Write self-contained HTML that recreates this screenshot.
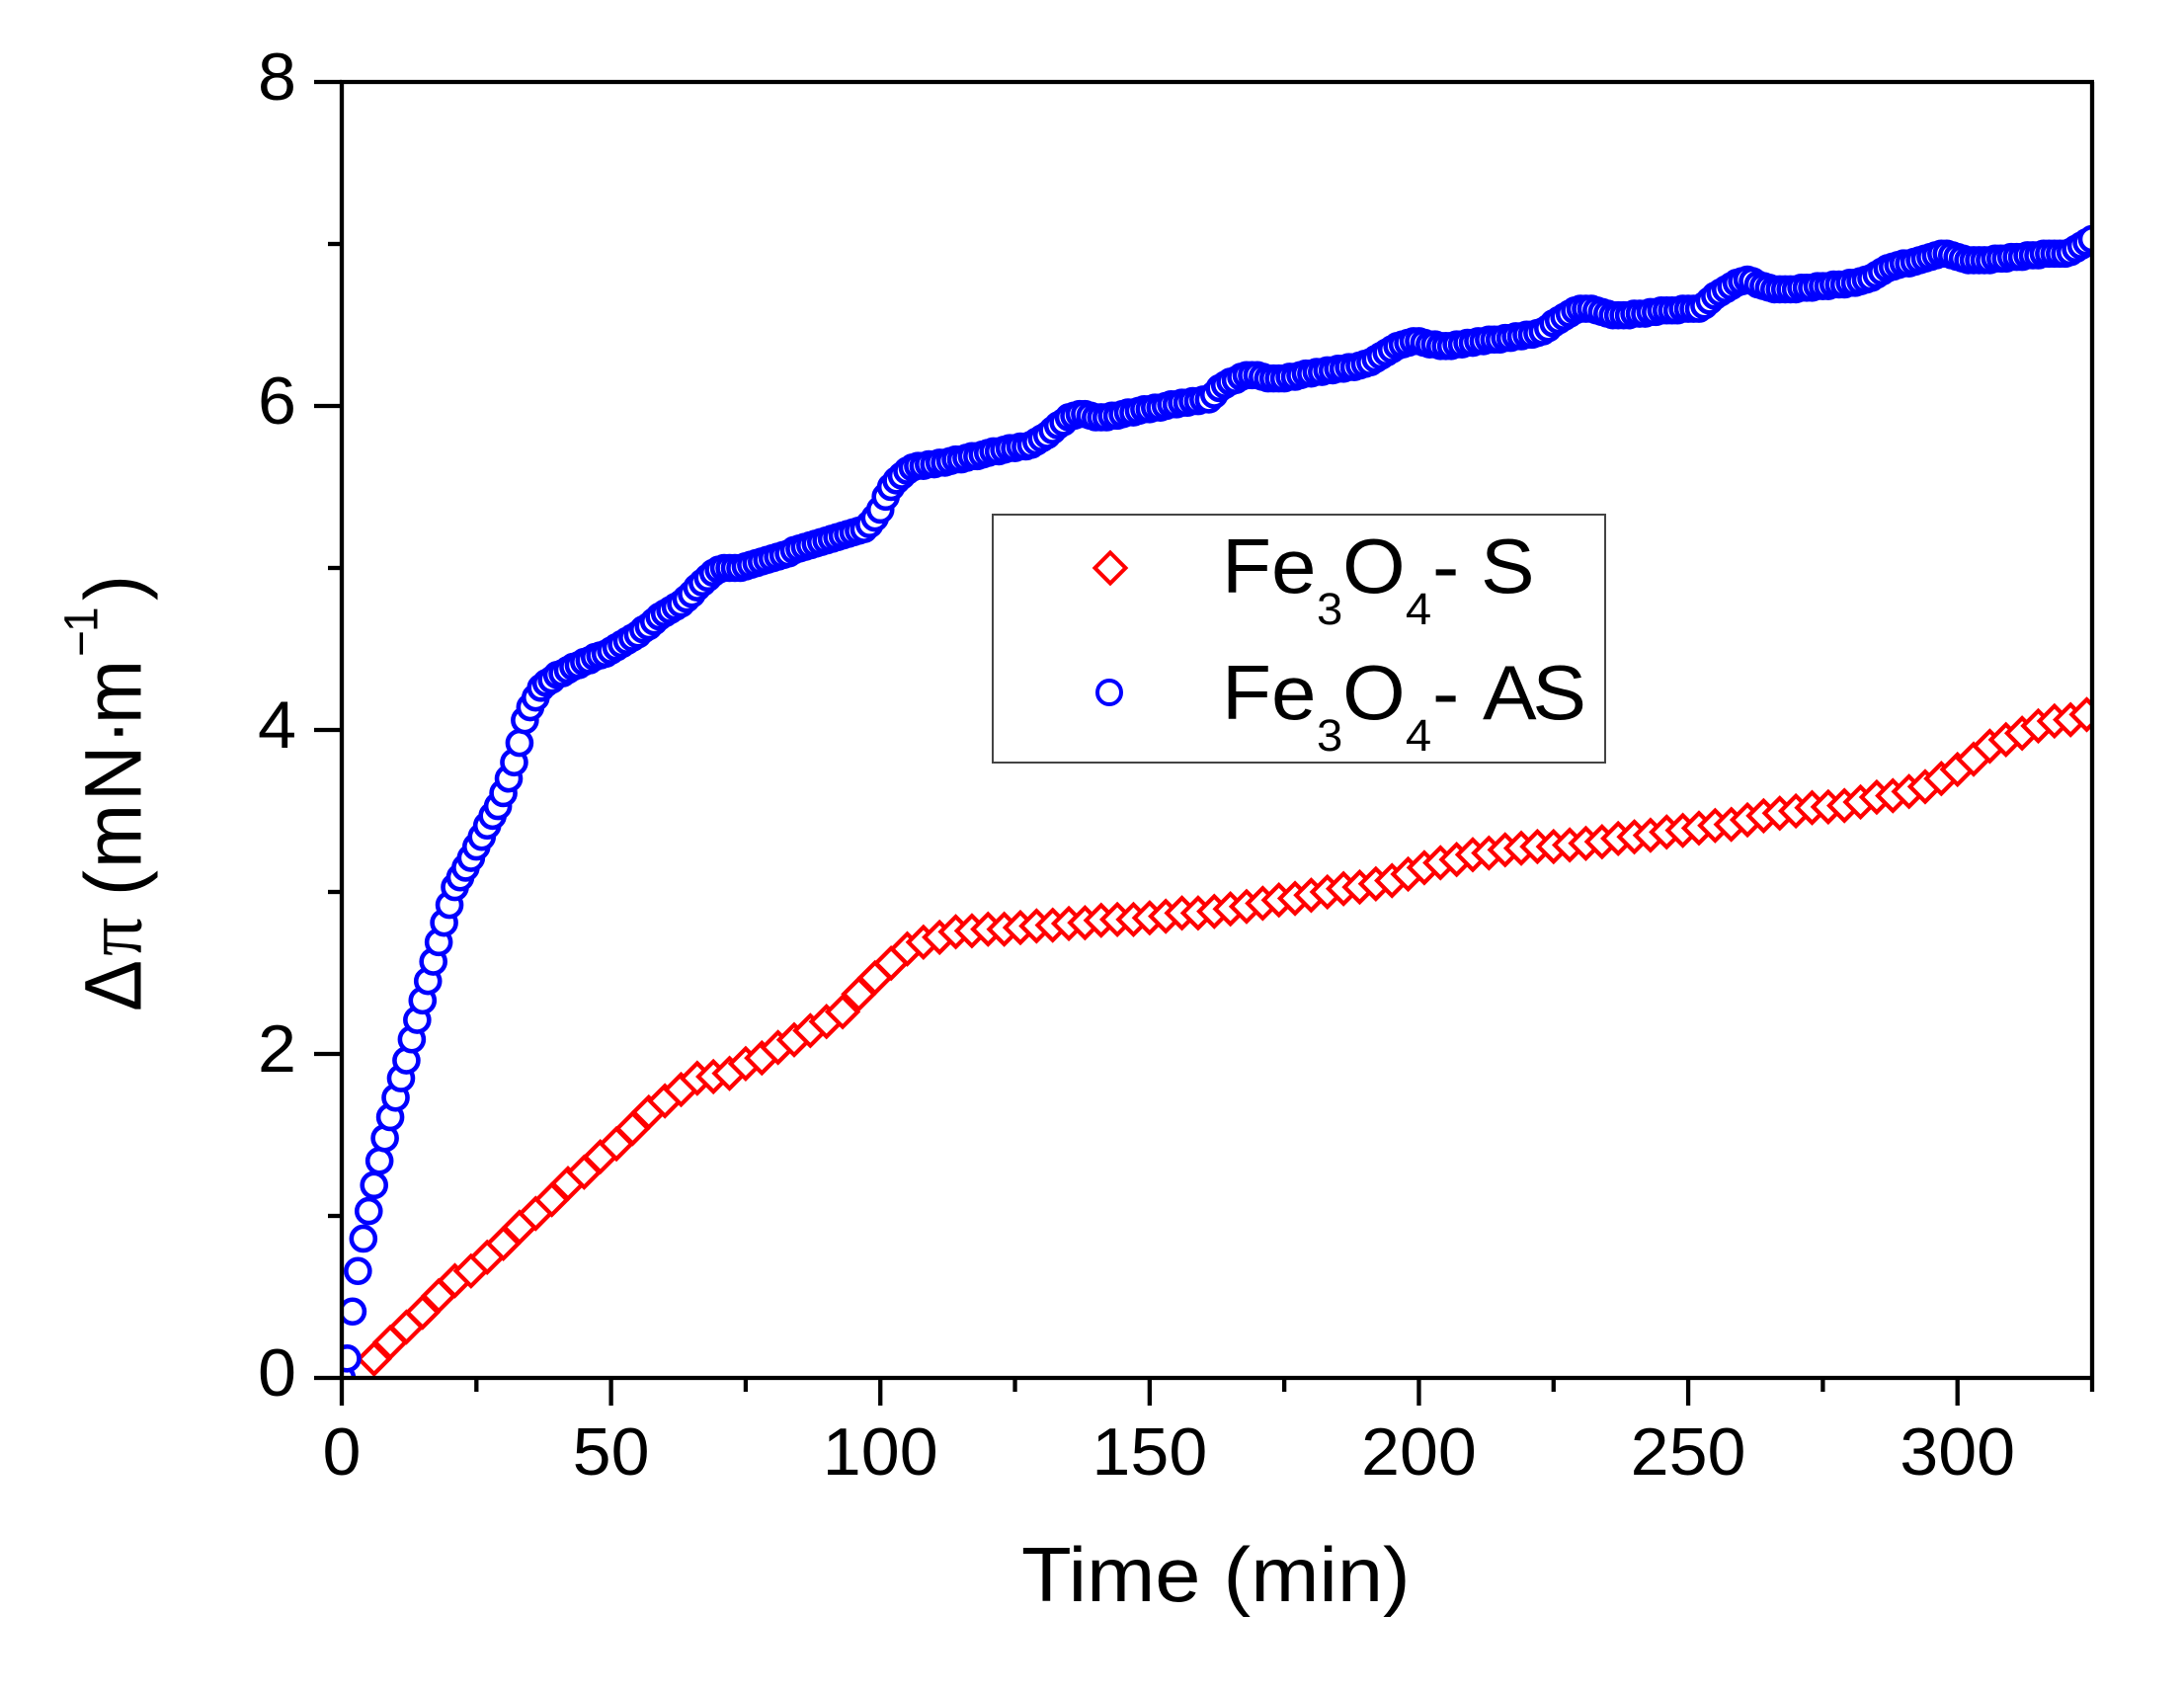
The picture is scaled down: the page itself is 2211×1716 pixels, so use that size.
<!DOCTYPE html>
<html lang="en">
<head>
<meta charset="utf-8">
<title>Surface pressure change over time</title>
<style>
html,body{margin:0;padding:0;background:#fff;}
svg{display:block;}
text{font-family:"Liberation Sans",sans-serif;fill:#000;}
</style>
</head>
<body>
<svg id="chart" xmlns="http://www.w3.org/2000/svg" width="2211" height="1716" viewBox="0 0 2211 1716">
  <defs><clipPath id="plot-clip"><rect x="346" y="83" width="772" height="0"></rect></clipPath></defs>
  <rect x="0" y="0" width="2211" height="1716" fill="#fff"></rect>
  <g id="series-s"></g>
  <g id="series-as"></g>
  <g id="axes"></g>
  <g id="x-tick-labels"></g>
  <g id="y-tick-labels"></g>

  <text transform="translate(1034,1621) scale(1.065,1)" font-size="78">Time (min)</text>

  <text transform="translate(142.7,1024) scale(1.05,1) rotate(-90)" font-size="78"><tspan x="0" y="0">Δ</tspan><tspan x="56" y="0" style="font-family:'Liberation Serif',serif">π</tspan><tspan x="117" y="0">(</tspan><tspan x="145" y="0">m</tspan><tspan x="213" y="0">N</tspan><tspan x="270" y="0">·</tspan><tspan x="291" y="0">m</tspan><tspan x="359" y="-42" font-size="46">−</tspan><tspan x="384" y="-42" font-size="46">1</tspan><tspan x="416" y="0">)</tspan></text>

  <g>
    <rect x="1005" y="521" width="620" height="251" fill="#fff" stroke="#444" stroke-width="2"></rect>
    <polygon points="1124,559.5 1139.5,575 1124,590.5 1108.5,575" fill="#fff" stroke="#ff0000" stroke-width="4"></polygon>
    <circle cx="1123" cy="701" r="12" fill="#fff" stroke="#0000ff" stroke-width="4"></circle>
    <text transform="translate(1237,600) scale(1.05,1)" font-size="78"><tspan x="0" y="0">Fe</tspan><tspan x="91.4" y="32" font-size="45">3</tspan><tspan x="116.2" y="0">O</tspan><tspan x="177" y="32" font-size="45">4</tspan><tspan x="202.9" y="0">-</tspan><tspan x="249.5" y="0">S</tspan></text>
    <text transform="translate(1237,728) scale(1.05,1)" font-size="78"><tspan x="0" y="0">Fe</tspan><tspan x="91.4" y="32" font-size="45">3</tspan><tspan x="116.2" y="0">O</tspan><tspan x="177" y="32" font-size="45">4</tspan><tspan x="202.9" y="0">-</tspan><tspan x="251.4" y="0" letter-spacing="-4">AS</tspan></text>
  </g>
</svg>
<script>
const xTickValues = [0,25,50,75,100,125,150,175,200,225,250,275,300,325];
const xTickLabels = ["0","","50","","100","","150","","200","","250","","300",""];
const yTickValues = [0,1,2,3,4,5,6,7,8];
const yTickLabels = ["0","","2","","4","","6","","8"];

const timesS = [6,9,12,15,18,21,24,27,30,33,36,39,42,45,48,51,54,57,60,63,66,69,72,75,78,81,84,87,90,93,96,99,102,105,108,111,114,117,120,123,126,129,132,135,138,141,144,147,150,153,156,159,162,165,168,171,174,177,180,183,186,189,192,195,198,201,204,207,210,213,216,219,222,225,228,231,234,237,240,243,246,249,252,255,258,261,264,267,270,273,276,279,282,285,288,291,294,297,300,303,306,309,312,315,318,321,324];
const valuesS = [0.117,0.22,0.314,0.405,0.507,0.60,0.66,0.745,0.83,0.93,1.015,1.10,1.20,1.27,1.365,1.445,1.54,1.64,1.71,1.78,1.85,1.86,1.88,1.94,1.975,2.04,2.087,2.144,2.20,2.26,2.37,2.47,2.56,2.648,2.69,2.72,2.754,2.76,2.77,2.77,2.78,2.79,2.795,2.805,2.81,2.825,2.83,2.83,2.84,2.85,2.87,2.87,2.88,2.895,2.91,2.93,2.95,2.96,2.98,3.00,3.02,3.03,3.05,3.07,3.11,3.15,3.18,3.20,3.23,3.24,3.26,3.27,3.28,3.28,3.29,3.30,3.31,3.33,3.34,3.35,3.37,3.38,3.394,3.41,3.417,3.445,3.47,3.486,3.50,3.52,3.525,3.533,3.555,3.585,3.594,3.62,3.65,3.70,3.756,3.82,3.90,3.94,3.98,4.025,4.055,4.063,4.095];

const timesAS = [0,1,2,3,4,5,6,7,8,9,10,11,12,13,14,15,16,17,18,19,20,21,22,23,24,25,26,27,28,29,30,31,32,33,34,35,36,37,38,39,40,41,42,43,44,45,46,47,48,49,50,51,52,53,54,55,56,57,58,59,60,61,62,63,64,65,66,67,68,69,70,71,72,73,74,75,76,77,78,79,80,81,82,83,84,85,86,87,88,89,90,91,92,93,94,95,96,97,98,99,100,101,102,103,104,105,106,107,108,109,110,111,112,113,114,115,116,117,118,119,120,121,122,123,124,125,126,127,128,129,130,131,132,133,134,135,136,137,138,139,140,141,142,143,144,145,146,147,148,149,150,151,152,153,154,155,156,157,158,159,160,161,162,163,164,165,166,167,168,169,170,171,172,173,174,175,176,177,178,179,180,181,182,183,184,185,186,187,188,189,190,191,192,193,194,195,196,197,198,199,200,201,202,203,204,205,206,207,208,209,210,211,212,213,214,215,216,217,218,219,220,221,222,223,224,225,226,227,228,229,230,231,232,233,234,235,236,237,238,239,240,241,242,243,244,245,246,247,248,249,250,251,252,253,254,255,256,257,258,259,260,261,262,263,264,265,266,267,268,269,270,271,272,273,274,275,276,277,278,279,280,281,282,283,284,285,286,287,288,289,290,291,292,293,294,295,296,297,298,299,300,301,302,303,304,305,306,307,308,309,310,311,312,313,314,315,316,317,318,319,320,321,322,323,324,325];
const valuesAS = [0.00,0.12,0.41,0.66,0.86,1.03,1.19,1.34,1.48,1.61,1.73,1.85,1.96,2.09,2.21,2.33,2.45,2.57,2.69,2.81,2.92,3.03,3.09,3.15,3.21,3.28,3.34,3.41,3.47,3.53,3.61,3.70,3.80,3.92,4.06,4.14,4.20,4.26,4.29,4.31,4.34,4.35,4.37,4.39,4.40,4.42,4.43,4.45,4.46,4.47,4.49,4.51,4.53,4.55,4.57,4.59,4.62,4.64,4.67,4.70,4.72,4.74,4.76,4.78,4.81,4.84,4.88,4.91,4.94,4.97,4.99,5.00,5.00,5.00,5.00,5.01,5.02,5.03,5.04,5.05,5.06,5.07,5.08,5.09,5.11,5.12,5.13,5.14,5.15,5.16,5.17,5.18,5.19,5.20,5.21,5.22,5.23,5.24,5.27,5.31,5.36,5.44,5.50,5.54,5.57,5.60,5.62,5.63,5.63,5.64,5.64,5.65,5.65,5.66,5.67,5.67,5.68,5.69,5.69,5.70,5.71,5.72,5.72,5.73,5.74,5.74,5.75,5.75,5.76,5.78,5.80,5.82,5.85,5.88,5.90,5.93,5.94,5.95,5.95,5.94,5.93,5.93,5.93,5.94,5.94,5.95,5.96,5.96,5.97,5.98,5.98,5.99,5.99,6.00,6.01,6.01,6.02,6.02,6.03,6.03,6.04,6.04,6.07,6.11,6.13,6.15,6.16,6.18,6.19,6.19,6.19,6.18,6.17,6.17,6.17,6.17,6.18,6.18,6.19,6.20,6.20,6.21,6.21,6.22,6.22,6.23,6.23,6.24,6.24,6.25,6.26,6.27,6.29,6.31,6.33,6.35,6.37,6.38,6.39,6.40,6.40,6.39,6.38,6.38,6.37,6.37,6.37,6.38,6.38,6.39,6.39,6.40,6.40,6.41,6.41,6.41,6.42,6.42,6.43,6.43,6.44,6.44,6.45,6.46,6.48,6.51,6.53,6.55,6.57,6.59,6.60,6.60,6.60,6.59,6.58,6.57,6.56,6.56,6.56,6.56,6.57,6.57,6.57,6.58,6.58,6.59,6.59,6.59,6.59,6.60,6.60,6.60,6.60,6.62,6.65,6.68,6.70,6.72,6.74,6.76,6.77,6.78,6.77,6.75,6.74,6.73,6.72,6.72,6.72,6.72,6.72,6.73,6.73,6.73,6.74,6.74,6.74,6.75,6.75,6.75,6.76,6.76,6.77,6.78,6.79,6.81,6.83,6.85,6.86,6.87,6.88,6.88,6.89,6.90,6.91,6.92,6.93,6.94,6.94,6.93,6.92,6.91,6.90,6.90,6.90,6.90,6.90,6.91,6.91,6.91,6.92,6.92,6.92,6.93,6.93,6.93,6.94,6.94,6.94,6.94,6.94,6.95,6.97,6.99,7.01,7.03];

const plotLeft = 346, plotRight = 2118, plotTop = 83, plotBottom = 1395;
const xMax = 325, yMax = 8;
const SVGNS = "http://www.w3.org/2000/svg";

function xScale(t){ return plotLeft + t * (plotRight - plotLeft) / xMax; }
function yScale(v){ return plotBottom - v * (plotBottom - plotTop) / yMax; }
function make(tag){ return document.createElementNS(SVGNS, tag); }

const clipRect = document.querySelector("#plot-clip rect");
clipRect.setAttribute("x", plotLeft);
clipRect.setAttribute("y", plotTop);
clipRect.setAttribute("width", plotRight - plotLeft);
clipRect.setAttribute("height", plotBottom - plotTop);

const groupS = document.getElementById("series-s");
groupS.setAttribute("clip-path", "url(#plot-clip)");
timesS.forEach(function(t, i){
  const cx = xScale(t), cy = yScale(valuesS[i]), h = 15.2;
  const d = make("polygon");
  d.setAttribute("points", cx+","+(cy-h)+" "+(cx+h)+","+cy+" "+cx+","+(cy+h)+" "+(cx-h)+","+cy);
  d.setAttribute("fill", "#fff");
  d.setAttribute("stroke", "#ff0000");
  d.setAttribute("stroke-width", "4.2");
  
  
  groupS.appendChild(d);
});

const groupAS = document.getElementById("series-as");
groupAS.setAttribute("clip-path", "url(#plot-clip)");
timesAS.forEach(function(t, i){
  const c = make("circle");
  c.setAttribute("cx", xScale(t));
  c.setAttribute("cy", yScale(valuesAS[i]));
  c.setAttribute("r", "12");
  c.setAttribute("fill", "#fff");
  c.setAttribute("stroke", "#0000ff");
  c.setAttribute("stroke-width", "4.6");
  
  
  groupAS.appendChild(c);
});

const axes = document.getElementById("axes");
function addLine(x1, y1, x2, y2, name){
  const l = make("line");
  l.setAttribute("x1", x1);
  l.setAttribute("y1", y1);
  l.setAttribute("x2", x2);
  l.setAttribute("y2", y2);
  l.setAttribute("stroke", "#000");
  l.setAttribute("stroke-width", "4.3");
  
  
  axes.appendChild(l);
}
addLine(plotLeft, plotTop, plotLeft, plotBottom, "y-axis-line");
addLine(plotLeft, plotBottom, plotRight + 2, plotBottom, "x-axis-line");
addLine(plotLeft - 2, plotTop, plotRight + 2, plotTop, "top-frame-line");
addLine(plotRight, plotTop, plotRight, plotBottom, "right-frame-line");

xTickValues.forEach(function(t, i){
  const len = xTickLabels[i] ? 28 : 14;
  addLine(xScale(t), plotBottom, xScale(t), plotBottom + len, "x-tick");
});
yTickValues.forEach(function(v, i){
  const len = yTickLabels[i] ? 28 : 14;
  addLine(plotLeft - len, yScale(v), plotLeft, yScale(v), "y-tick");
});

const xLabelGroup = document.getElementById("x-tick-labels");
xTickValues.forEach(function(t, i){
  if(!xTickLabels[i]) return;
  const tx = make("text");
  tx.setAttribute("transform", "translate(" + xScale(t) + ",1493) scale(1.03,1)");
  tx.setAttribute("text-anchor", "middle");
  tx.setAttribute("font-size", "68");
  
  
  tx.textContent = xTickLabels[i];
  xLabelGroup.appendChild(tx);
});

const yLabelGroup = document.getElementById("y-tick-labels");
yTickValues.forEach(function(v, i){
  if(!yTickLabels[i]) return;
  const ty = make("text");
  ty.setAttribute("transform", "translate(300," + (yScale(v) + 18) + ") scale(1.03,1)");
  ty.setAttribute("text-anchor", "end");
  ty.setAttribute("font-size", "68");
  
  
  ty.textContent = yTickLabels[i];
  yLabelGroup.appendChild(ty);
});
</script>
</body>
</html>
